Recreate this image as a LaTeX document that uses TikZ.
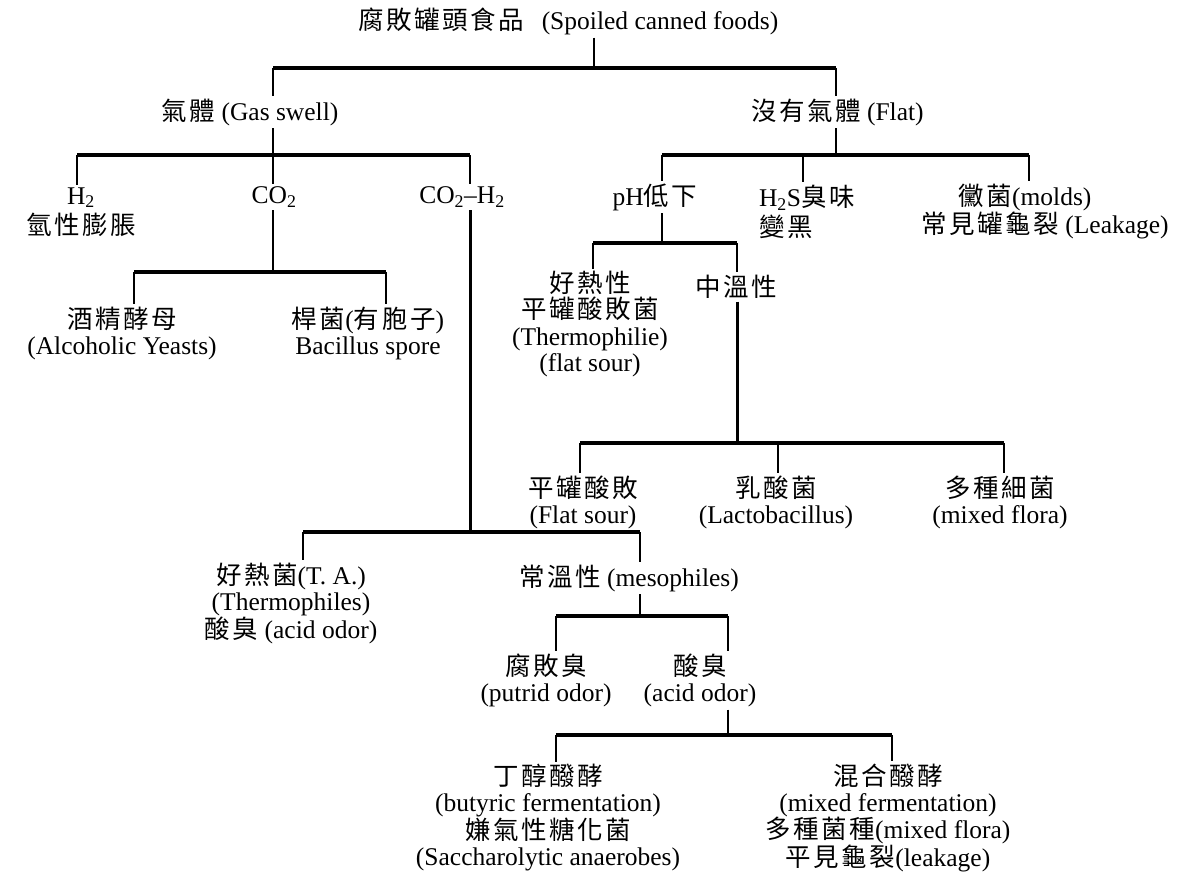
\documentclass[tikz,border=0pt]{standalone}
\usepackage{fontspec}
\setmainfont{Liberation Serif}
\newfontfamily\cjk[LetterSpace=10]{Noto Sans CJK TC}
\newcommand{\zh}[1]{{\cjk #1}}
\begin{document}
\begin{tikzpicture}[x=1pt,y=-1pt,
  txt/.style={inner sep=0pt,outer sep=3pt,align=center,font=\fontsize{25.5}{26}\selectfont},
  loose/.style={font=\fontsize{25.5}{30}\selectfont},
  bar/.style={line width=3.4pt},
  stem/.style={line width=1.4pt},
  heavy/.style={line width=3pt}]
\useasboundingbox (0,0) rectangle (1190,875);
% text nodes
\node[txt,anchor=west] (root) at (355,21) {\zh{腐敗罐頭食品}\hspace{18pt}(Spoiled canned foods)};
\node[txt] (gas) at (250,112) {\zh{氣體} (Gas swell)};
\node[txt,anchor=west] (flat) at (748,112) {\zh{沒有氣體} (Flat)};
\node[txt,loose] (h2) at (81,212) {H\textsubscript{2}\\\zh{氫性膨脹}};
\node[txt] (co2) at (274,197) {CO\textsubscript{2}};
\node[txt] (co2h2) at (462,197) {CO\textsubscript{2}--H\textsubscript{2}};
\node[txt] (ph) at (655,197) {pH\zh{低下}};
\node[txt,loose,align=left,anchor=west] (h2s) at (756,212) {H\textsubscript{2}S\zh{臭味}\\\zh{變黑}};
\node[txt] (mold) at (1025,197) {\zh{黴菌}(molds)};
\node[txt] (leak) at (1045,225) {\zh{常見罐龜裂} (Leakage)};
\node[txt] (yeast) at (122,333) {\zh{酒精酵母}\\(Alcoholic Yeasts)};
\node[txt] (bac) at (368,333) {\zh{桿菌}(\zh{有胞子})\\Bacillus spore};
\node[txt] (thermo) at (590,324) {\zh{好熱性}\\\zh{平罐酸敗菌}\\(Thermophilie)\\(flat sour)};
\node[txt] (meso) at (736,287) {\zh{中溫性}};
\node[txt] (fs) at (583,502) {\zh{平罐酸敗}\\(Flat sour)};
\node[txt] (lacto) at (776,502) {\zh{乳酸菌}\\(Lactobacillus)};
\node[txt] (mixed) at (1000,502) {\zh{多種細菌}\\(mixed flora)};
\node[txt] (ta) at (291,603) {\zh{好熱菌}(T. A.)\\(Thermophiles)\\\zh{酸臭} (acid odor)};
\node[txt] (mes) at (629,578) {\zh{常溫性} (mesophiles)};
\node[txt] (putrid) at (546,680) {\zh{腐敗臭}\\(putrid odor)};
\node[txt] (acid) at (700,680) {\zh{酸臭}\\(acid odor)};
\node[txt] (buty) at (548,818) {\zh{丁醇醱酵}\\(butyric fermentation)\\\zh{嫌氣性糖化菌}\\(Saccharolytic anaerobes)};
\node[txt] (mixf) at (888,818) {\zh{混合醱酵}\\(mixed fermentation)\\\zh{多種菌種}(mixed flora)\\\zh{平見龜裂}(leakage)};
% junction coordinates
\coordinate (j0) at (594,68);
\coordinate (b1l) at (273,68); \coordinate (b1r) at (836,68);
\coordinate (j2) at (273,155); \coordinate (b2l) at (77,155); \coordinate (b2r) at (470,155);
\coordinate (j2r) at (836,155); \coordinate (c2l) at (662,155); \coordinate (c2m) at (803,155); \coordinate (c2r) at (1029,155);
\coordinate (j3) at (273,272); \coordinate (b3l) at (134,272); \coordinate (b3r) at (386,272);
\coordinate (j4) at (470,532); \coordinate (b4l) at (303,532); \coordinate (b4r) at (640,532);
\coordinate (j5) at (640,616); \coordinate (b5l) at (556,616); \coordinate (b5r) at (728,616);
\coordinate (j6) at (728,735); \coordinate (b6l) at (556,735); \coordinate (b6r) at (892,735);
\coordinate (j7) at (662,243); \coordinate (b7l) at (593,243); \coordinate (b7r) at (737,243);
\coordinate (j8) at (737,443); \coordinate (b8l) at (580,443); \coordinate (b8m) at (778,443); \coordinate (b8r) at (1004,443);
% level 1
\draw[stem] (root.south -| j0) -- (j0);
\draw[bar] (b1l) -- (b1r);
\draw[stem] (b1l) -- (gas.north -| b1l);
\draw[stem] (b1r) -- (flat.north -| b1r);
% gas swell
\draw[stem] (gas.south -| j2) -- (j2);
\draw[bar] (b2l) -- (b2r);
\draw[stem] (b2l) -- (h2.north -| b2l);
\draw[stem] (j2) -- (co2.north -| j2);
\draw[stem] (b2r) -- (co2h2.north -| b2r);
% CO2
\draw[stem] (co2.south -| j3) -- (j3);
\draw[bar] (b3l) -- (b3r);
\draw[stem] (b3l) -- (yeast.north -| b3l);
\draw[stem] (b3r) -- (bac.north -| b3r);
% CO2-H2
\draw[heavy] (co2h2.south -| j4) -- (j4);
\draw[bar] (b4l) -- (b4r);
\draw[stem] (b4l) -- (ta.north -| b4l);
\draw[stem] (b4r) -- (mes.north -| b4r);
\draw[stem] (mes.south -| j5) -- (j5);
\draw[bar] (b5l) -- (b5r);
\draw[stem] (b5l) -- (putrid.north -| b5l);
\draw[stem] (b5r) -- (acid.north -| b5r);
\draw[stem] (acid.south -| j6) -- (j6);
\draw[bar] (b6l) -- (b6r);
\draw[stem] (b6l) -- (buty.north -| b6l);
\draw[stem] (b6r) -- (mixf.north -| b6r);
% flat
\draw[stem] (flat.south -| j2r) -- (j2r);
\draw[bar] (c2l) -- (c2r);
\draw[stem] (c2l) -- (ph.north -| c2l);
\draw[stem] (c2m) -- (h2s.north -| c2m);
\draw[stem] (c2r) -- (mold.north -| c2r);
\draw[stem] (ph.south -| j7) -- (j7);
\draw[bar] (b7l) -- (b7r);
\draw[stem] (b7l) -- (thermo.north -| b7l);
\draw[stem] (b7r) -- (meso.north -| b7r);
\draw[heavy] (meso.south -| j8) -- (j8);
\draw[bar] (b8l) -- (b8r);
\draw[stem] (b8l) -- (fs.north -| b8l);
\draw[stem] (b8m) -- (lacto.north -| b8m);
\draw[stem] (b8r) -- (mixed.north -| b8r);
\end{tikzpicture}
\end{document}
